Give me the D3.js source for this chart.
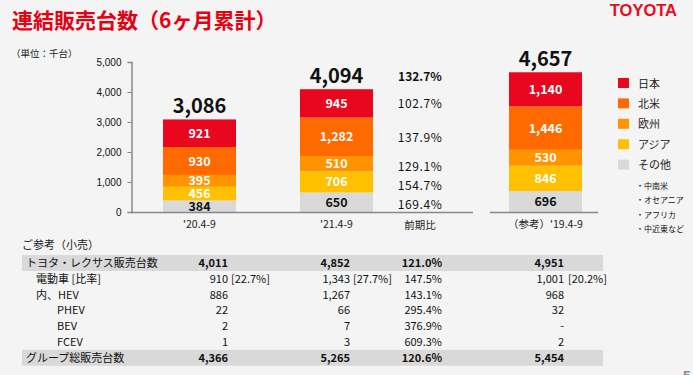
<!DOCTYPE html>
<html>
<head>
<meta charset="utf-8">
<script src="https://cdn.jsdelivr.net/npm/d3@7"></script>
<style>
  body { margin: 0; background: #f4f4f4; }
  svg { display: block; font-family: "Noto Sans CJK JP", "Noto Sans", sans-serif; }
</style>
</head>
<body>
<script>
// chart data (thousand units)
var periods = ["'20.4-9", "'21.4-9"];
var refPeriod = "（参考）'19.4-9";
var regions = ["日本", "北米", "欧州", "アジア", "その他"];
var japan = [921, 945, 1140];
var northAmerica = [930, 1282, 1446];
var europe = [395, 510, 530];
var asia = [456, 706, 846];
var other = [384, 650, 696];
var totals = [3086, 4094, 4657];
var yoyTotal = "132.7%";
var yoyRegion = ["102.7%", "137.9%", "129.1%", "154.7%", "169.4%"];
var yTicks = [0, 1000, 2000, 3000, 4000, 5000];
var otherRegions = ["・中南米", "・オセアニア", "・アフリカ", "・中近東など"];

// reference table (retail)
var tableLabels = ["トヨタ・レクサス販売台数", "電動車 [比率]", "内、HEV", "PHEV", "BEV", "FCEV", "グループ総販売台数"];
var tableIndent = [0, 1, 1, 2, 2, 2, 0];
var retail20 = [4011, 910, 886, 22, 2, 1, 4366];
var retail21 = [4852, 1343, 1267, 66, 7, 3, 5265];
var retailRatio = ["121.0%", "147.5%", "143.1%", "295.4%", "376.9%", "609.3%", "120.6%"];
var retail19 = [4951, 1001, 968, 32, null, 2, 5454];
var evShare = ["[22.7%]", "[27.7%]", "[20.2%]"];

var colors = { "日本": "#e9071f", "北米": "#ff6a00", "欧州": "#ff9400", "アジア": "#ffc000", "その他": "#d9d9d9" };
var series = { "日本": japan, "北米": northAmerica, "欧州": europe, "アジア": asia, "その他": other };

var width = 693, height = 375;
var svg = d3.select("body").append("svg").attr("width", width).attr("height", height);
svg.append("rect").attr("width", width).attr("height", height).attr("fill", "#f4f4f4");

// header
svg.append("text").attr("x", 12).attr("y", 28)
  .attr("fill", "#e60012").attr("font-size", 21).attr("font-weight", "bold")
  .text("連結販売台数（6ヶ月累計）");
svg.append("text").attr("x", 677).attr("y", 16).attr("text-anchor", "end")
  .attr("fill", "#eb0a1e").attr("font-size", 16.5).attr("font-weight", "bold")
  .attr("font-family", "Liberation Sans, Arial, sans-serif")
  .text("TOYOTA");
svg.append("text").attr("x", 11).attr("y", 57)
  .attr("fill", "#222").attr("font-size", 9.5)
  .text("（単位：千台）");
svg.append("text").attr("x", 683).attr("y", 381)
  .attr("fill", "#888").attr("font-size", 14).attr("font-weight", "bold")
  .attr("font-family", "Liberation Sans, Arial, sans-serif")
  .text("5");

// scales
var y = d3.scaleLinear().domain([0, 5000]).range([212, 62]);
var x = d3.scaleBand().domain(periods).range([131, 405]).paddingInner(0.467).paddingOuter(0.2335);
var xRef = d3.scaleBand().domain([refPeriod]).range([477, 614]).paddingInner(0.467).paddingOuter(0.2335);
function xAll(p) { return p === refPeriod ? xRef(p) : x(p); }
var allPeriods = periods.concat([refPeriod]);

// y axis
var yAxis = svg.append("g").attr("transform", "translate(131.5,0)")
  .call(d3.axisLeft(y).tickValues(yTicks).tickFormat(d3.format(",")).tickSize(4).tickPadding(6));
yAxis.select(".domain").attr("stroke", "#888").attr("stroke-width", 1.5);
yAxis.selectAll(".tick line").attr("stroke", "#888");
yAxis.selectAll(".tick text").attr("fill", "#111").attr("font-size", 10)
  .attr("font-family", "Liberation Sans, Arial, sans-serif");

// stacked bars
var rows = allPeriods.map(function (p, i) {
  var r = { period: p };
  regions.forEach(function (k) { r[k] = series[k][i]; });
  return r;
});
var stack = d3.stack().keys(regions.slice().reverse());
var layers = stack(rows);

var g = svg.append("g");
layers.forEach(function (layer) {
  var key = layer.key;
  g.selectAll(null).data(layer).enter().append("rect")
    .attr("x", function (d) { return xAll(d.data.period); })
    .attr("width", x.bandwidth())
    .attr("y", function (d) { return y(d[1]); })
    .attr("height", function (d) { return y(d[0]) - y(d[1]); })
    .attr("fill", colors[key]);
  g.selectAll(null).data(layer).enter().append("text")
    .attr("x", function (d) { return xAll(d.data.period) + x.bandwidth() / 2; })
    .attr("y", function (d) { return (y(d[0]) + y(d[1])) / 2 + 4.5; })
    .attr("text-anchor", "middle")
    .attr("font-size", 12.5).attr("font-weight", "bold")
    .attr("fill", key === "その他" ? "#111" : "#fff")
    .text(function (d) { return d3.format(",")(d.data[key]); });
});

// totals
g.selectAll(null).data(rows).enter().append("text")
  .attr("x", function (d) { return xAll(d.period) + x.bandwidth() / 2; })
  .attr("y", function (d, i) { return y(totals[i]) - 6; })
  .attr("text-anchor", "middle")
  .attr("font-size", 20).attr("font-weight", "bold").attr("fill", "#111")
  .text(function (d, i) { return d3.format(",")(totals[i]); });

// baselines
svg.append("line").attr("x1", 131).attr("x2", 473).attr("y1", y(0) + 0.5).attr("y2", y(0) + 0.5)
  .attr("stroke", "#888").attr("stroke-width", 1.5);
svg.append("line").attr("x1", xRef(refPeriod) - 19).attr("x2", xRef(refPeriod) + x.bandwidth() + 16)
  .attr("y1", y(0) + 0.5).attr("y2", y(0) + 0.5)
  .attr("stroke", "#888").attr("stroke-width", 1.5);

// category labels
var ratioX = 420;
allPeriods.forEach(function (p) {
  svg.append("text").attr("x", xAll(p) + x.bandwidth() / 2).attr("y", 228)
    .attr("text-anchor", "middle").attr("font-size", 10.5).attr("fill", "#222").text(p);
});
svg.append("text").attr("x", ratioX).attr("y", 229)
  .attr("text-anchor", "middle").attr("font-size", 10.5).attr("fill", "#222").text("前期比");

// year-on-year column
svg.append("text").attr("x", ratioX).attr("y", y(totals[1]) - 8)
  .attr("text-anchor", "middle").attr("font-size", 12).attr("font-weight", "bold").attr("fill", "#111")
  .text(yoyTotal);
var bar21 = layers.map(function (l) { return l[1]; }).reverse();
var nudge = [0, 1, 3, 4, 2.5];
yoyRegion.forEach(function (v, i) {
  var d = bar21[i];
  svg.append("text").attr("x", ratioX).attr("y", (y(d[0]) + y(d[1])) / 2 + 4.5 + nudge[i])
    .attr("text-anchor", "middle").attr("font-size", 12).attr("fill", "#111")
    .attr("letter-spacing", 0.6).text(v);
});

// legend
var legend = svg.append("g").selectAll("g").data(regions).enter().append("g")
  .attr("transform", function (d, i) { return "translate(618," + (78 + i * 20.4) + ")"; });
legend.append("rect").attr("width", 11).attr("height", 10).attr("fill", function (d) { return colors[d]; });
legend.append("text").attr("x", 20).attr("y", 9.5).attr("font-size", 11).attr("fill", "#222")
  .text(function (d) { return d; });
svg.append("g").selectAll("text").data(otherRegions).enter().append("text")
  .attr("x", 636).attr("y", function (d, i) { return 189 + i * 14.3; })
  .attr("font-size", 8).attr("fill", "#111").text(function (d) { return d; });

// reference table
svg.append("text").attr("x", 22).attr("y", 249).attr("font-size", 11).attr("fill", "#222").text("ご参考（小売）");
var rowY = d3.scaleLinear().domain([0, 1]).range([263, 278.8]);
var fmt = d3.format(",");
var table = svg.append("g");
tableLabels.forEach(function (lab, i) {
  var cy = rowY(i), bold = tableIndent[i] === 0;
  if (bold) {
    table.append("rect").attr("x", 22).attr("y", cy - 8).attr("width", 581).attr("height", 16).attr("fill", "#d9d9d9");
  }
  var t = function (xp, txt, anchor, weight) {
    table.append("text").attr("x", xp).attr("y", cy + 4).attr("text-anchor", anchor)
      .attr("font-size", 11).attr("font-weight", weight ? "bold" : "normal").attr("fill", "#111").text(txt);
  };
  t([26, 36, 57][tableIndent[i]], lab, "start", false);
  t(228, fmt(retail20[i]), "end", bold);
  t(350, fmt(retail21[i]), "end", bold);
  t(442, retailRatio[i], "end", bold);
  t(564, retail19[i] == null ? "-" : fmt(retail19[i]), "end", bold);
  if (i === 1) {
    t(231, evShare[0], "start", false);
    t(353, evShare[1], "start", false);
    t(568, evShare[2], "start", false);
  }
});
</script>
</body>
</html>
